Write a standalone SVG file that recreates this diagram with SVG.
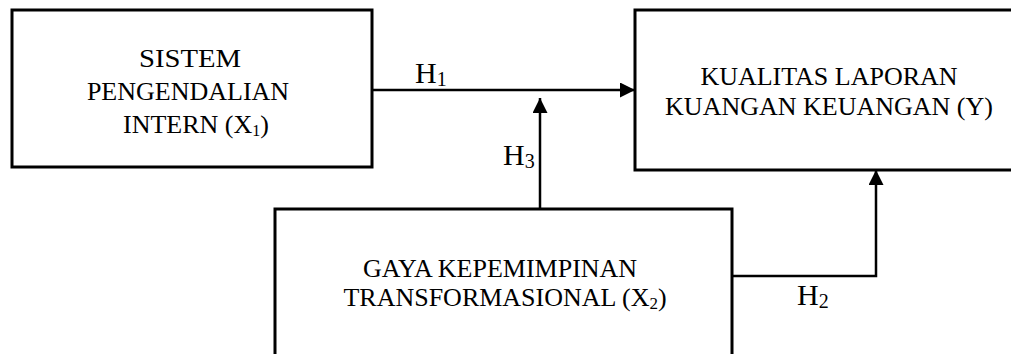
<svg xmlns="http://www.w3.org/2000/svg" width="1011" height="354" viewBox="0 0 1011 354">
<style>
.box{fill:#fff;stroke:#000;stroke-width:3}
.t{font-family:"Liberation Serif","Times New Roman",serif;font-size:26px;fill:#000;text-anchor:middle}
.lbl{font-family:"Liberation Serif","Times New Roman",serif;font-size:30px;fill:#000}
.conn{fill:none;stroke:#000;stroke-width:2.5}
</style>
<defs>
<marker id="ah" markerWidth="15" markerHeight="15" refX="15" refY="7.5" orient="auto" markerUnits="userSpaceOnUse" viewBox="0 0 15 15">
<path d="M0,0 L15,7.5 L0,15 Z" fill="#000"/>
</marker>
</defs>
<g id="node-x1">
<rect class="box" x="12" y="10" width="360" height="157"/>
<text class="t" x="190" y="67" font-size="25" textLength="102" lengthAdjust="spacingAndGlyphs">SISTEM</text>
<text class="t" x="188" y="100" font-size="25">PENGENDALIAN</text>
<text class="t" x="196" y="133" font-size="25">INTERN (X<tspan font-size="16" dy="3">1</tspan><tspan dy="-3">)</tspan></text>
</g>
<g id="node-y">
<rect class="box" x="635" y="10" width="400" height="160"/>
<text class="t" x="829" y="85">KUALITAS LAPORAN</text>
<text class="t" x="829" y="115">KUANGAN KEUANGAN (Y)</text>
</g>
<g id="node-x2">
<rect class="box" x="275" y="209" width="457" height="160"/>
<text class="t" x="500" y="277">GAYA KEPEMIMPINAN</text>
<text class="t" x="505" y="306">TRANSFORMASIONAL (X<tspan font-size="17" dy="3">2</tspan><tspan dy="-3">)</tspan></text>
</g>
<g id="connectors">
<line class="conn" x1="373" y1="90" x2="635" y2="90" marker-end="url(#ah)"/>
<line class="conn" x1="540" y1="208" x2="540" y2="98" marker-end="url(#ah)"/>
<polyline class="conn" points="732,276 876,276 876,170" marker-end="url(#ah)"/>
<text class="lbl" x="415" y="83">H<tspan font-size="20" dy="3">1</tspan></text>
<text class="lbl" x="503" y="165">H<tspan font-size="20" dy="3">3</tspan></text>
<text class="lbl" x="797" y="305">H<tspan font-size="20" dy="3">2</tspan></text>
</g>
</svg>
